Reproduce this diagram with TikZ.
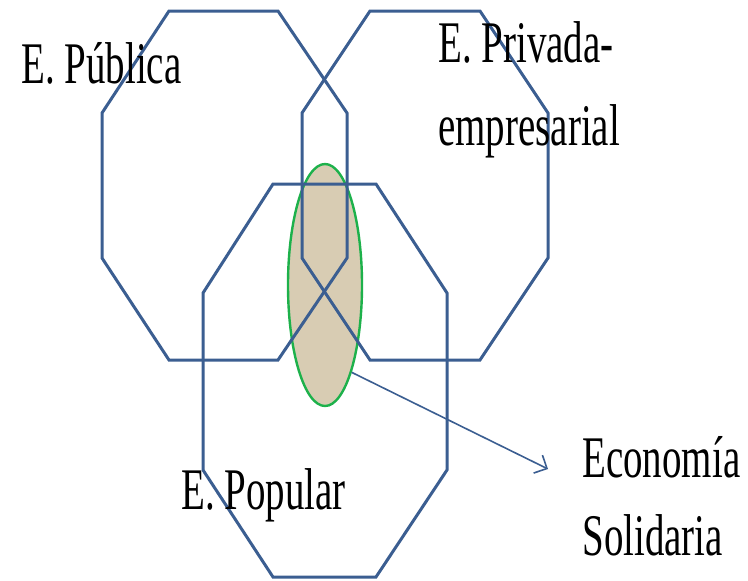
\documentclass[tikz,border=0pt]{standalone}
\usepackage{fontspec}
\setmainfont{Liberation Serif}
\usetikzlibrary{arrows.meta,positioning,shapes.geometric}

\definecolor{octblue}{HTML}{3B5E91}
\definecolor{solgreen}{HTML}{1DB14B}
\definecolor{sand}{HTML}{D8CCB3}
\newcommand{\squeeze}[1]{\scalebox{0.66}[1]{#1}}

\begin{document}
\begin{tikzpicture}[
  x=0.5pt, y=-0.5pt,
  octo/.style={draw=octblue, line width=1.5pt, line join=miter},
  core/.style={ellipse, draw=solgreen, fill=sand, line width=1.2pt,
               minimum width=37pt, minimum height=121pt, inner sep=0pt},
  lbl/.style={anchor=base west, inner sep=0pt, align=left},
  pointer/.style={-{Straight Barb[length=5pt,width=10pt]}, draw=octblue, line width=0.8pt},
]
\useasboundingbox (0,0) rectangle (748,580);

% Solidarity core
\node[core] (solid) at (325,285) {};

% Sectors
\draw[octo] (169,11) -- (278,11) -- (347,113) -- (347,258) -- (278,360)
  -- (169,360) -- (102,258) -- (102,113) -- cycle;
\draw[octo] (370,11) -- (480,11) -- (548,113) -- (548,258) -- (480,360)
  -- (370,360) -- (302,258) -- (302,113) -- cycle;
\draw[octo] (273,184) -- (376,184) -- (447,293) -- (447,470) -- (376,577)
  -- (273,577) -- (203,470) -- (203,293) -- cycle;

% Labels (base = last line)
\node[lbl, font=\fontsize{29.5}{41.5}\selectfont] (publica) at (21,83) {\squeeze{E. Pública}};
\node[lbl, font=\fontsize{29.5}{41.5}\selectfont] (privada) at (438,145) {\squeeze{E. Privada-}\\\squeeze{empresarial}};
\node[lbl, font=\fontsize{29.5}{41.5}\selectfont] (popular) at (181,509) {\squeeze{E. Popular}};
\node[lbl, font=\fontsize{29.5}{39}\selectfont] (ecosol) at (582,555) {\squeeze{Economía}\\\squeeze{Solidaria}};

% Pointer
\coordinate (tip) at (548,469);
\draw[pointer] (solid.-73) -- (tip);

\end{tikzpicture}
\end{document}
